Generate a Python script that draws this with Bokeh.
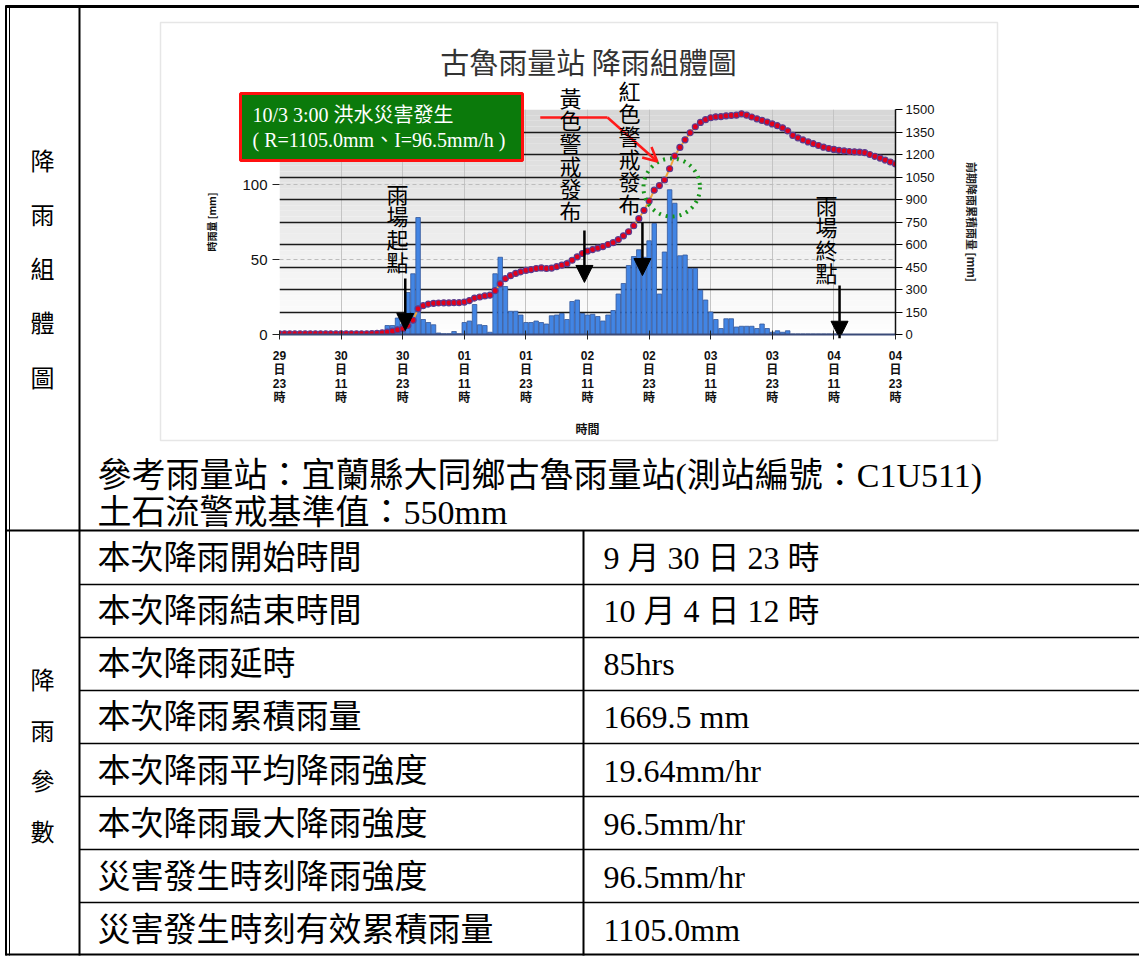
import numpy as np
from bokeh.plotting import figure
from bokeh.models import (Range1d, LinearAxis, FixedTicker, Label, Arrow, NormalHead,
                          OpenHead, Grid, ColumnDataSource, GridBox)
from bokeh.embed import file_html
from bokeh.resources import INLINE

# ---------------- data ----------------
hours = list(range(121))  # hours after 9/29 23:00
rain = [0, 0, 0, 0, 0, 0, 0, 0, 0, 0, 0, 0, 0, 0, 0, 0, 0, 0, 0, 0, 0,
        6, 6, 11, 7, 28, 40.5, 78, 10, 8, 6.5,
        1, 0.5, 0.5, 2, 0.5, 8, 9, 20, 6.5, 6, 1.5,
        40.5, 51.5, 32, 15.5, 15.5, 13, 8, 8, 9, 8, 7, 12.5, 13, 14, 10,
        22, 23, 14, 13, 13.5, 12, 9, 13, 16, 27, 34, 46, 52, 56.5, 51.5, 62.5, 74, 27, 55,
        96.5, 87.5, 52.5, 53, 44, 44, 29.5, 23, 15, 10, 4, 10.5, 10.5, 5, 5.5, 5.5, 5.5, 4, 7, 4,
        1.5, 2.5, 1.5, 2.5,
        0.3, 0.3, 0.3, 0.3, 0.3, 0.3, 0.3, 0.3, 0.3, 0.3,
        0, 0, 0, 0, 0, 0, 0, 0, 0, 0, 0]
cum = [5, 5, 5, 5, 5, 5, 5, 5, 5, 5, 5, 5, 5, 5, 5, 5, 5, 5,
       6, 8, 11, 16, 22, 31, 38, 60, 95, 171, 192, 203, 208,
       210, 211, 211, 212, 212, 216, 226, 243, 250, 257, 262,
       292, 338, 372, 392, 407, 418, 427, 433, 440, 444, 440, 443, 452, 462, 472,
       495, 518, 540, 556, 566, 576, 586, 600, 612, 632, 658, 685, 725, 772, 828,
       890, 962, 993, 1030, 1105, 1190, 1247, 1298, 1345, 1385, 1414, 1432, 1445,
       1451, 1453, 1458, 1460, 1462, 1471, 1462, 1450, 1438, 1427, 1416, 1404, 1392,
       1378, 1358, 1327, 1311, 1297, 1284, 1272, 1260, 1249, 1240, 1234, 1228, 1224,
       1220, 1218, 1216, 1212, 1200, 1188, 1176, 1163, 1150, 1137]
tick_hours = [0, 12, 24, 36, 48, 60, 72, 84, 96, 108, 120]
tick_labels = ["29\n日\n23\n時", "30\n日\n11\n時", "30\n日\n23\n時", "01\n日\n11\n時",
               "01\n日\n23\n時", "02\n日\n11\n時", "02\n日\n23\n時", "03\n日\n11\n時",
               "03\n日\n23\n時", "04\n日\n11\n時", "04\n日\n23\n時"]
left_ticks = [0, 50, 100, 150]
right_ticks = [0, 150, 300, 450, 600, 750, 900, 1050, 1200, 1350, 1500]

param_names = ["本次降雨開始時間", "本次降雨結束時間", "本次降雨延時", "本次降雨累積雨量",
               "本次降雨平均降雨強度", "本次降雨最大降雨強度", "災害發生時刻降雨強度",
               "災害發生時刻有效累積雨量"]
param_values = ["9 月  30 日 23 時", "10 月  4 日 12 時", "85hrs", "1669.5 mm",
                "19.64mm/hr", "96.5mm/hr", "96.5mm/hr", "1105.0mm"]

# ---------------- styles ----------------
AX = "Liberation Sans, Noto Sans CJK TC"
CJK = "Noto Sans CJK TC"
TAB = "Liberation Serif, Noto Sans CJK TC"
W, H = 1139, 956

# ================= chart figure (bottom layer) =================
p = figure(frame_width=616, frame_height=225,
           min_border_left=279, min_border_right=W - 895, min_border_top=109, min_border_bottom=H - 334,
           x_range=Range1d(0, 120), y_range=Range1d(0, 150),
           output_backend="svg", toolbar_location=None, tools="")
p.frame_align = False
p.outline_line_color = None
p.background_fill_color = "white"
p.border_fill_color = "white"
p.extra_y_ranges = {"cum": Range1d(0, 1500)}

nb = 40
edges = np.linspace(0, 150, nb + 1)
cols = []
for i in range(nb):
    t = (i + 0.5) / nb
    c = int(round(255 - t * (255 - 214)))
    cols.append("#%02x%02x%02x" % (c, c, c))
bg = p.quad(left=0, right=120, bottom=edges[:-1], top=edges[1:], fill_color=cols, line_color=None)
bg.level = "image"

p.xgrid.ticker = FixedTicker(ticks=tick_hours)
p.xgrid.grid_line_color = "#c4c4c4"
p.xgrid.grid_line_width = 1
p.ygrid.ticker = FixedTicker(ticks=[50, 100])
p.ygrid.grid_line_color = "#bdbdbd"
p.ygrid.grid_line_dash = "4 3"
p.add_layout(Grid(dimension=1, ticker=FixedTicker(ticks=[15, 30, 45, 60, 75, 90, 105, 120, 135, 150]),
                  grid_line_color="#1a1a1a", grid_line_width=1.3))

bsrc = ColumnDataSource(dict(h=[h for h, r in zip(hours, rain) if r > 0],
                             r=[r for r in rain if r > 0]))
p.vbar(x="h", top="r", width=0.88, source=bsrc, fill_color="#4285e4", line_color="#35589a", line_width=0.8)

csrc = ColumnDataSource(dict(h=hours, c=cum))
p.line("h", "c", source=csrc, y_range_name="cum", line_color="#f2a33a", line_width=2)
p.scatter("h", "c", source=csrc, y_range_name="cum", size=6, fill_color="#e3001b",
          line_color="#5b3c8f", line_width=1.2)

xa = p.xaxis[0]
xa.ticker = FixedTicker(ticks=tick_hours)
xa.major_label_overrides = {h: s for h, s in zip(tick_hours, tick_labels)}
xa.major_label_text_font = AX
xa.major_label_text_font_size = "12px"
xa.major_label_text_font_style = "bold"
xa.major_label_text_color = "#111111"
xa.major_label_text_line_height = 1.0
xa.major_label_standoff = 9
xa.major_tick_in = 4
xa.major_tick_out = 5
xa.minor_tick_line_color = None
xa.axis_line_color = "#3a4a78"
xa.axis_line_width = 2
xa.major_tick_line_color = "#222222"
xa.axis_label = "時間"
xa.axis_label_text_font = CJK
xa.axis_label_text_font_size = "12px"
xa.axis_label_text_font_style = "bold"
xa.axis_label_text_color = "#111111"
xa.axis_label_standoff = 12

ya = p.yaxis[0]
ya.ticker = FixedTicker(ticks=left_ticks)
ya.major_label_text_font = AX
ya.major_label_text_font_size = "15px"
ya.major_label_text_color = "#111111"
ya.major_tick_in = 0
ya.major_tick_out = 7
ya.minor_tick_line_color = None
ya.axis_line_color = None
ya.major_tick_line_color = "#222222"
ya.axis_label = "時雨量 [mm]"
ya.axis_label_text_font = CJK
ya.axis_label_text_font_size = "10px"
ya.axis_label_text_font_style = "bold"
ya.axis_label_text_color = "#111111"
ya.axis_label_standoff = 20

ra = LinearAxis(y_range_name="cum", ticker=FixedTicker(ticks=right_ticks))
ra.major_label_text_font = AX
ra.major_label_text_font_size = "13px"
ra.major_label_text_color = "#111111"
ra.major_tick_in = 0
ra.major_tick_out = 7
ra.major_label_standoff = 3
ra.minor_tick_line_color = None
ra.axis_line_color = "#111111"
ra.axis_line_width = 1.5
ra.axis_label = "前期降雨累積雨量 [mm]"
ra.axis_label_text_font = CJK
ra.axis_label_text_font_size = "11px"
ra.axis_label_text_font_style = "bold"
ra.axis_label_text_color = "#222222"
ra.axis_label_standoff = 27
p.add_layout(ra, "right")

p.ellipse(x=76.4, y=98, width=11.0, height=38.7, fill_color=None, line_color="#17961a",
          line_width=4, line_dash="2 5")

p.add_layout(Arrow(end=None, x_start=50.8, y_start=144.7, x_end=63.9, y_end=144.7,
                   line_color="#ff1a1a", line_width=2.5))
p.add_layout(Arrow(end=OpenHead(size=14, line_color="#ff1a1a", line_width=2.5),
                   x_start=63.9, y_start=144.7, x_end=73.6, y_end=115.3,
                   line_color="#ff1a1a", line_width=2.5))

for xs, y0, y1 in [(24.5, 37.3, 2.7), (59.4, 69.3, 34.7), (70.7, 74.7, 39.3), (109.1, 32.7, -2.5)]:
    p.add_layout(Arrow(end=NormalHead(size=17, fill_color="black", line_color="black"),
                       x_start=xs, y_start=y0, x_end=xs, y_end=y1,
                       line_color="black", line_width=2.5))

# ================= overlay figure (top layer, transparent, pixel coords) =================
ov = figure(width=W, height=H, x_range=Range1d(0, W), y_range=Range1d(H, 0),
            min_border=0, toolbar_location=None, tools="", output_backend="svg",
            x_axis_location=None, y_axis_location=None)
ov.frame_align = False
ov.grid.visible = False
ov.outline_line_color = None
ov.background_fill_color = None
ov.border_fill_color = None


def lab(x, y, text, font=CJK, size="20px", align="left", baseline="middle", color="black",
        lh=1.2, style="normal", **kw):
    l = Label(x=x, y=y, text=text, text_font=font, text_font_size=size, text_align=align,
              text_baseline=baseline, text_color=color, text_line_height=lh,
              text_font_style=style, **kw)
    ov.add_layout(l)
    return l


def seg(x0, y0, x1, y1, color="black", width=2):
    ov.segment(x0=x0, y0=y0, x1=x1, y1=y1, line_color=color, line_width=width)


# chart card
ov.quad(left=160, right=997, top=22, bottom=440, fill_color=None, line_color="#e6e6e6", line_width=1.5)

lab(588, 60, "古魯雨量站 降雨組體圖", size="29px", align="center", color="#333333")

lab(397, 176, "雨\n場\n起\n點", size="22px", align="center", baseline="top", lh=0.71)
lab(570, 80, "黃\n色\n警\n戒\n發\n布", size="22px", align="center", baseline="top", lh=0.71)
lab(629, 73, "紅\n色\n警\n戒\n發\n布", size="22px", align="center", baseline="top", lh=0.71)
lab(826, 187, "雨\n場\n終\n點", size="22px", align="center", baseline="top", lh=0.71)

# disaster box
ov.quad(left=240, right=522, top=93, bottom=160, fill_color="#0b7a0b", line_color="#ff1010", line_width=3)
lab(252, 114, "10/3 3:00 洪水災害發生", font=TAB, size="20px", color="white")
lab(252, 139, "( R=1105.0mm、I=96.5mm/h )", font=TAB, size="20px", color="white")

# ---------------- table ----------------
seg(5, 6, W, 6, width=3)
seg(5.5, 5, 5.5, 955, width=2)
seg(9, 5, 9, 955, width=1)
seg(79, 5, 79, 955, width=2)
seg(5, 530, W, 530, width=2)
for yy in [584, 637, 690, 743, 796, 849, 902]:
    seg(79, yy, W, yy, width=1.5)
seg(583, 530, 583, 955, width=2)
seg(5, 954, W, 954, width=2)

lab(42, 267, "降\n雨\n組\n體\n圖", font=CJK, size="24px", align="center", lh=1.55)
lab(42, 754, "降\n雨\n參\n數", font=CJK, size="24px", align="center", lh=1.45)

lab(97, 475, "參考雨量站：宜蘭縣大同鄉古魯雨量站(測站編號：C1U511)", font=TAB, size="34px")
lab(97, 512, "土石流警戒基準值：550mm", font=TAB, size="34px")

row_centers = [557, 610, 663, 716, 770, 823, 876, 929]
for yc, nm, vl in zip(row_centers, param_names, param_values):
    lab(97, yc, nm, font=TAB, size="33px")
    lab(603, yc, vl, font=TAB, size="32px")

layout = GridBox(children=[(p, 0, 0), (ov, 0, 0)])
open("out.html", "w").write(file_html(layout, INLINE))
